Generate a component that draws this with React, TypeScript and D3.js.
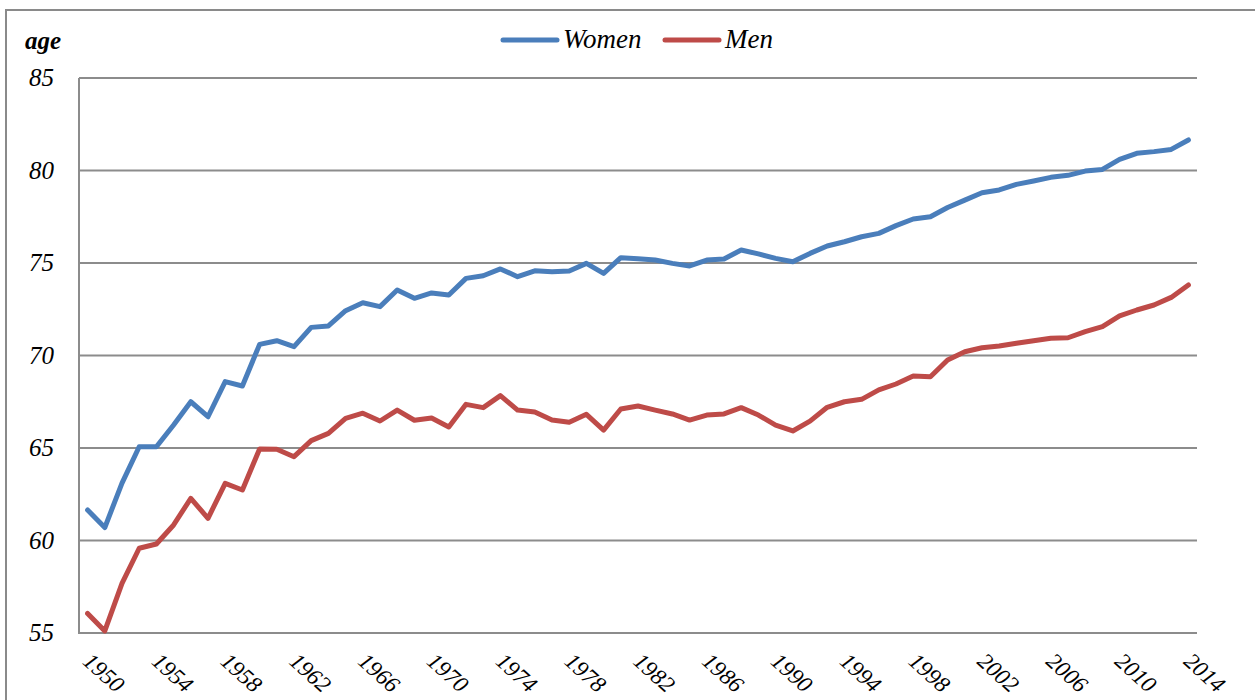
import React, { useRef, useEffect } from "react";
import * as d3 from "d3";

const years: number[] = d3.range(1950, 2015);

const women: number[] = [
  61.65, 60.7, 63.1, 65.07, 65.07, 66.24, 67.5, 66.69, 68.59, 68.35,
  70.6, 70.8, 70.48, 71.52, 71.6, 72.42, 72.85, 72.64, 73.54, 73.09,
  73.38, 73.27, 74.17, 74.31, 74.68, 74.26, 74.58, 74.53, 74.57, 74.98,
  74.44, 75.29, 75.23, 75.16, 74.98, 74.84, 75.16, 75.22, 75.7, 75.49,
  75.25, 75.07, 75.52, 75.92, 76.15, 76.42, 76.6, 77.02, 77.38, 77.5,
  78.0, 78.4, 78.8, 78.95, 79.25, 79.43, 79.63, 79.74, 79.97, 80.06,
  80.6, 80.93, 81.02, 81.14, 81.65,
];

const men: number[] = [
  56.06, 55.11, 57.68, 59.58, 59.81, 60.84, 62.28, 61.2, 63.09, 62.73,
  64.95, 64.93, 64.53, 65.4, 65.79, 66.6, 66.88, 66.46, 67.05, 66.5,
  66.62, 66.14, 67.36, 67.18, 67.83, 67.05, 66.95, 66.51, 66.39, 66.82,
  65.97, 67.11, 67.27, 67.05, 66.84, 66.51, 66.78, 66.84, 67.18, 66.78,
  66.24, 65.92, 66.45, 67.2, 67.5, 67.63, 68.14, 68.46, 68.89, 68.85,
  69.76, 70.2, 70.42, 70.51, 70.66, 70.8, 70.93, 70.96, 71.29, 71.56,
  72.14, 72.46, 72.73, 73.14, 73.81,
];

const yTicks: number[] = [55, 60, 65, 70, 75, 80, 85];
const xTickYears: number[] = d3.range(1950, 2015, 4);

const seriesNames: string[] = ["Women", "Men"];
const seriesColors: string[] = ["#4A7EBB", "#BE4B48"];

const App: React.FC = () => {
  const svgRef = useRef<SVGSVGElement>(null);
  const width = 1255;
  const height = 700;

  useEffect(() => {
    if (!svgRef.current) return;
    const svg = d3.select(svgRef.current);
    svg.selectAll("*").remove();

    const left = 79;
    const right = 1197;
    const top = 78;
    const bottom = 633;
    const serif = "'Times New Roman', Tinos, 'Liberation Serif', 'DejaVu Serif', serif";

    const x = d3
      .scalePoint<number>()
      .domain(years)
      .range([left, right])
      .padding(0.5);
    const y = d3.scaleLinear().domain([55, 85]).range([bottom, top]);

    // outer chart frame
    svg
      .append("rect")
      .attr("x", 6)
      .attr("y", 10)
      .attr("width", 1270)
      .attr("height", 720)
      .attr("fill", "white")
      .attr("stroke", "#8a8a8a")
      .attr("stroke-width", 2);

    // gridlines
    svg
      .append("g")
      .selectAll("line")
      .data(yTicks)
      .enter()
      .append("line")
      .attr("x1", left)
      .attr("x2", right)
      .attr("y1", (d) => y(d))
      .attr("y2", (d) => y(d))
      .attr("stroke", "#8c8c8c")
      .attr("stroke-width", 2);

    // left axis line
    svg
      .append("line")
      .attr("x1", left)
      .attr("x2", left)
      .attr("y1", top)
      .attr("y2", bottom + 1)
      .attr("stroke", "#8c8c8c")
      .attr("stroke-width", 2);

    const txt = svg
      .append("g")
      .style("font-family", serif)
      .style("font-style", "italic")
      .attr("fill", "#000");

    // y tick labels
    txt
      .append("g")
      .selectAll("text")
      .data(yTicks)
      .enter()
      .append("text")
      .attr("x", 54)
      .attr("y", (d) => y(d))
      .attr("dy", "0.33em")
      .attr("text-anchor", "end")
      .style("font-size", "25px")
      .text((d) => d);

    // "age" title
    txt
      .append("text")
      .attr("x", 25)
      .attr("y", 49)
      .style("font-weight", "bold")
      .style("font-size", "25px")
      .text("age");

    // x tick labels (rotated)
    txt
      .append("g")
      .selectAll("text")
      .data(xTickYears)
      .enter()
      .append("text")
      .attr(
        "transform",
        (d) => `translate(${(x(d) as number) - 6}, 663) rotate(42)`
      )
      .attr("text-anchor", "start")
      .style("font-size", "23px")
      .text((d) => d);

    // lines
    const line = d3
      .line<number>()
      .x((_, i) => x(years[i]) as number)
      .y((d) => y(d));

    [women, men].forEach((series, i) => {
      svg
        .append("path")
        .datum(series)
        .attr("d", line)
        .attr("fill", "none")
        .attr("stroke", seriesColors[i])
        .attr("stroke-width", 5)
        .attr("stroke-linejoin", "round")
        .attr("stroke-linecap", "round");
    });

    // legend
    const legendX = [503, 665];
    seriesNames.forEach((name, i) => {
      const lg = txt.append("g").attr("transform", `translate(${legendX[i]}, 40)`);
      lg.append("line")
        .attr("x1", 0)
        .attr("x2", 54)
        .attr("y1", 0)
        .attr("y2", 0)
        .attr("stroke", seriesColors[i])
        .attr("stroke-width", 5)
        .attr("stroke-linecap", "round");
      lg.append("text")
        .attr("x", 60)
        .attr("y", 8)
        .style("font-size", "27px")
        .text(name);
    });
  }, []);

  return (
    <svg
      ref={svgRef}
      width={width}
      height={height}
      style={{ position: "absolute", left: 0, top: 0, background: "white" }}
    />
  );
};

export default App;
